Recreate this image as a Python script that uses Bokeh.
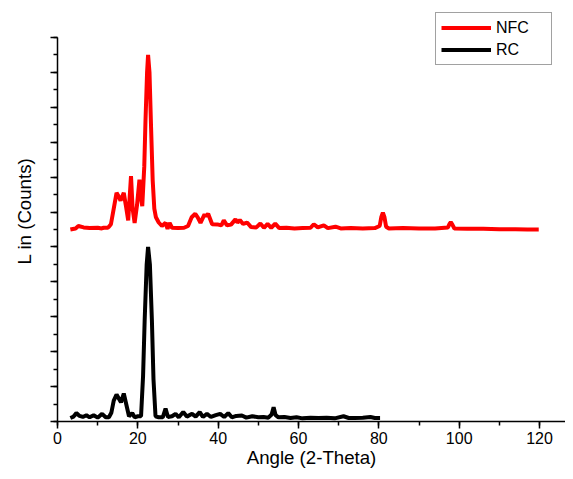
from bokeh.plotting import figure
from bokeh.models import Range1d, SingleIntervalTicker, Legend, LegendItem, CustomJSTickFormatter
from bokeh.embed import file_html
from bokeh.resources import INLINE

# ---- data (angle in degrees 2-theta, counts in arbitrary units) ----
nfc_angle = [3.2, 4.5, 5.2, 6.5, 8.0, 10.0, 11.0, 11.5, 12.5, 12.8, 13.3, 14.0, 14.7, 15.2, 15.7,
             16.5, 17.0, 17.6, 18.3, 18.7, 19.2, 19.8, 20.4, 20.8, 21.1, 21.6, 21.9, 22.3, 22.55,
             22.9, 23.3, 23.7, 24.1, 24.5, 25.2, 26.0, 26.9, 27.4, 27.9, 28.5, 30.0, 31.5, 32.5,
             33.4, 34.3, 34.9, 35.6, 36.6, 37.0, 37.5, 38.5, 40.0, 40.8, 41.4, 42.2, 43.2, 44.3,
             44.8, 45.4, 46.2, 47.2, 48.2, 49.5, 50.5, 51.4, 52.3, 53.2, 54.2, 55.2, 57.0, 59.0,
             61.0, 63.0, 63.8, 64.8, 66.3, 67.3, 69.2, 70.5, 73.0, 76.0, 79.0, 80.2, 80.6, 81.0,
             81.4, 81.8, 82.5, 86.0, 90.0, 94.0, 97.2, 97.6, 97.9, 98.3, 98.8, 102.0, 106.0,
             110.0, 114.0, 117.0, 119.8]
nfc_counts = [5.50, 5.53, 5.60, 5.56, 5.54, 5.55, 5.53, 5.55, 5.55, 5.58, 5.65, 6.10, 6.55, 6.45, 6.33,
              6.55, 6.20, 5.76, 7.03, 6.10, 5.69, 6.20, 6.93, 6.40, 6.17, 7.30, 8.60, 10.00, 10.50,
              10.00, 8.40, 6.90, 6.10, 5.85, 5.70, 5.60, 5.69, 5.52, 5.69, 5.55, 5.54, 5.55, 5.60,
              5.85, 5.95, 5.85, 5.69, 5.93, 5.88, 5.95, 5.65, 5.64, 5.62, 5.76, 5.62, 5.64, 5.79,
              5.70, 5.77, 5.66, 5.70, 5.57, 5.56, 5.67, 5.55, 5.66, 5.55, 5.67, 5.54, 5.55, 5.53,
              5.54, 5.55, 5.65, 5.56, 5.62, 5.54, 5.58, 5.53, 5.54, 5.53, 5.54, 5.60, 5.85, 5.98,
              5.85, 5.58, 5.53, 5.54, 5.53, 5.53, 5.56, 5.66, 5.71, 5.64, 5.53, 5.52, 5.52,
              5.51, 5.51, 5.50, 5.50]

rc_angle = [3.2, 4.0, 4.7, 5.5, 6.3, 7.2, 8.0, 9.0, 10.0, 11.1, 12.0, 12.8, 13.4, 14.0, 14.7, 15.3,
            15.8, 16.5, 17.2, 17.8, 18.6, 19.2, 20.0, 20.8, 21.3, 21.7, 22.2, 22.55, 23.0, 23.5,
            23.9, 24.4, 25.2, 26.2, 26.9, 27.5, 28.5, 29.4, 30.2, 31.3, 32.2, 33.5, 34.4, 35.4,
            36.2, 37.2, 38.2, 39.4, 40.5, 41.5, 42.5, 43.4, 44.5, 45.9, 47.0, 48.5, 50.0, 51.3,
            52.5, 53.3, 53.8, 54.3, 55.0, 56.5, 58.0, 59.5, 61.0, 63.0, 65.0, 67.0, 69.0, 71.2,
            72.5, 74.0, 76.0, 77.9, 79.0, 80.3]
rc_counts = [0.10, 0.14, 0.24, 0.16, 0.13, 0.18, 0.12, 0.18, 0.11, 0.22, 0.12, 0.12, 0.25, 0.60, 0.77, 0.65,
             0.55, 0.80, 0.45, 0.15, 0.24, 0.12, 0.15, 0.15, 1.30, 2.90, 4.50, 5.00, 4.50, 2.90,
             1.20, 0.15, 0.12, 0.12, 0.37, 0.13, 0.15, 0.22, 0.12, 0.27, 0.14, 0.22, 0.14, 0.27,
             0.13, 0.22, 0.13, 0.18, 0.22, 0.13, 0.24, 0.12, 0.16, 0.17, 0.11, 0.15, 0.12, 0.13,
             0.11, 0.20, 0.41, 0.18, 0.12, 0.13, 0.10, 0.12, 0.09, 0.11, 0.10, 0.11, 0.09, 0.15,
             0.10, 0.10, 0.11, 0.13, 0.10, 0.10]

series_names = ["NFC", "RC"]

FONT = "Liberation Sans"

# layout: the visible y axis spans 0..11 count units over 384 px
PX_PER_UNIT = 384 / 11.0
W, H = 565, 471
LEFT = 57
AXIS_Y = 421           # pixel row of the x axis
X_PX_PER_UNIT = 4.017

p = figure(width=W, height=H, output_backend="svg", toolbar_location=None,
           x_range=Range1d(0, (W - LEFT) / X_PX_PER_UNIT),
           y_range=Range1d(0, AXIS_Y / PX_PER_UNIT),
           min_border_left=LEFT, min_border_right=0, min_border_top=0,
           min_border_bottom=H - AXIS_Y)
p.outline_line_color = None
p.xgrid.visible = False
p.ygrid.visible = False
p.background_fill_color = "white"
p.border_fill_color = "white"

r_nfc = p.line(nfc_angle, nfc_counts, line_color="#ff0000", line_width=4)
r_rc = p.line(rc_angle, rc_counts, line_color="#000000", line_width=4)

# x axis
p.xaxis.ticker = SingleIntervalTicker(interval=20, num_minor_ticks=2)
p.xaxis.axis_label = "Angle (2-Theta)"
p.xaxis.major_label_text_font = FONT
p.xaxis.major_label_text_font_size = "16px"
p.xaxis.major_label_standoff = 3
p.xaxis.axis_label_standoff = 0

# y axis
p.yaxis.bounds = (0, 11)
p.yaxis.ticker = SingleIntervalTicker(interval=1, num_minor_ticks=2)
p.yaxis.formatter = CustomJSTickFormatter(code="return ''")
p.yaxis.axis_label = "L in (Counts)"
p.yaxis.major_label_standoff = 0
p.yaxis.axis_label_standoff = 16

for ax in (p.xaxis, p.yaxis):
    ax.axis_label_text_font = FONT
    ax.axis_label_text_font_size = "18.67px"
    ax.axis_label_text_font_style = "normal"
    ax.axis_label_text_color = "black"
    ax.major_label_text_color = "black"
    ax.axis_line_color = "black"
    ax.axis_line_width = 1.5
    ax.major_tick_line_color = "black"
    ax.major_tick_line_width = 1.5
    ax.minor_tick_line_color = "black"
    ax.minor_tick_line_width = 1.5
    ax.major_tick_in = 0
    ax.major_tick_out = 7
    ax.minor_tick_in = 0
    ax.minor_tick_out = 4

legend = Legend(items=[LegendItem(label=series_names[0], renderers=[r_nfc]),
                       LegendItem(label=series_names[1], renderers=[r_rc])],
                location=(378, AXIS_Y - 65))
legend.label_text_font = FONT
legend.label_text_font_size = "16px"
legend.label_text_color = "black"
legend.padding = 5
legend.spacing = 3
legend.glyph_width = 50
legend.glyph_height = 19
legend.label_height = 19
legend.label_width = 50
legend.label_standoff = 5
legend.margin = 0
legend.border_line_color = "#444444"
legend.border_line_width = 1
legend.background_fill_alpha = 1
p.add_layout(legend, "center")

open("out.html", "w").write(file_html(p, INLINE))
